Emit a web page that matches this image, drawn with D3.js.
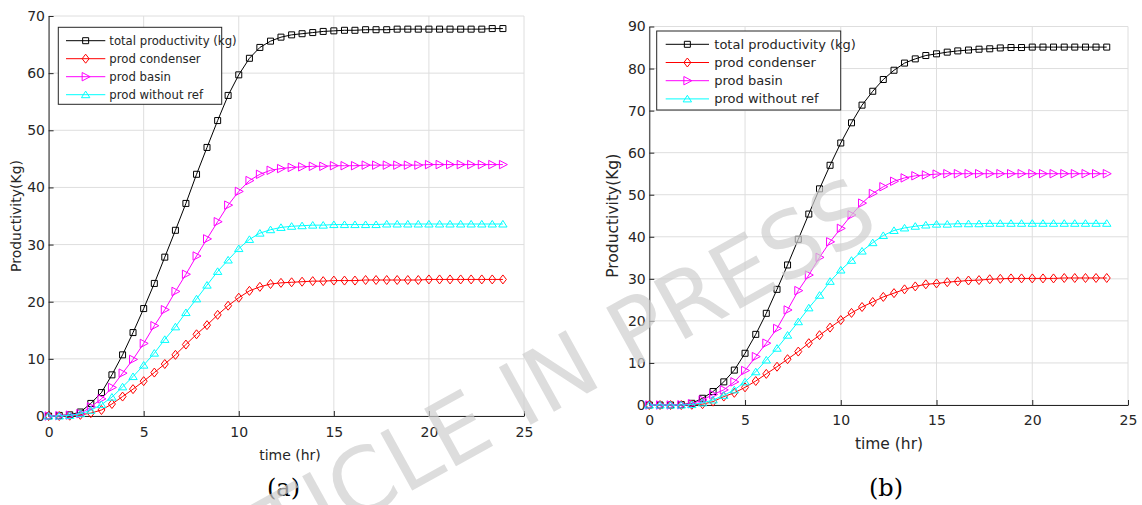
<!DOCTYPE html>
<html>
<head>
<meta charset="utf-8">
<script src="https://cdn.jsdelivr.net/npm/d3@7"></script>
<style>
  body { margin: 0; background: #fff; }
  svg text { font-family: "DejaVu Sans", sans-serif; fill: #262626; }
</style>
</head>
<body>
<svg id="chart" width="1142" height="505"></svg>
<script>
// time samples (hr)
const time = [0, 0.56, 1.11, 1.67, 2.22, 2.78, 3.33, 3.89, 4.44, 5, 5.56, 6.11, 6.67, 7.22, 7.78, 8.33, 8.89, 9.44, 10, 10.56, 11.11, 11.67, 12.22, 12.78, 13.33, 13.89, 14.44, 15, 15.56, 16.11, 16.67, 17.22, 17.78, 18.33, 18.89, 19.44, 20, 20.56, 21.11, 21.67, 22.22, 22.78, 23.33, 23.89];

// panel (a)
const totalA = [0, 0.1, 0.2, 0.7, 2.2, 4.1, 7.2, 10.7, 14.6, 18.8, 23.2, 27.8, 32.5, 37.2, 42.3, 47.0, 51.7, 56.1, 59.7, 62.6, 64.5, 65.6, 66.3, 66.7, 66.9, 67.1, 67.3, 67.4, 67.5, 67.5, 67.6, 67.6, 67.6, 67.7, 67.7, 67.7, 67.7, 67.7, 67.7, 67.7, 67.7, 67.7, 67.8, 67.8];
const condA = [0, 0, 0.05, 0.2, 0.5, 1.05, 2.1, 3.4, 4.7, 6.1, 7.6, 9.1, 10.7, 12.5, 14.3, 15.9, 17.7, 19.3, 20.7, 21.9, 22.6, 23.1, 23.3, 23.4, 23.5, 23.6, 23.6, 23.7, 23.7, 23.7, 23.8, 23.8, 23.8, 23.8, 23.8, 23.8, 23.9, 23.9, 23.9, 23.9, 23.9, 23.9, 23.9, 23.9];
const basinA = [0, 0.05, 0.15, 0.4, 1.6, 3.0, 5.0, 7.5, 9.9, 12.7, 15.8, 18.6, 21.8, 24.8, 28.0, 31.0, 34.0, 36.9, 39.3, 41.2, 42.3, 43.0, 43.3, 43.5, 43.6, 43.7, 43.7, 43.8, 43.8, 43.8, 43.9, 43.9, 43.9, 43.9, 43.9, 43.9, 44.0, 44.0, 44.0, 44.0, 44.0, 44.0, 44.0, 44.0];
const noRefA = [0, 0, 0.1, 0.4, 1.0, 2.0, 3.3, 5.1, 6.9, 8.9, 11.0, 13.4, 15.6, 18.1, 20.5, 22.9, 25.3, 27.3, 29.3, 30.9, 32.0, 32.6, 33.0, 33.2, 33.3, 33.4, 33.4, 33.5, 33.5, 33.5, 33.5, 33.5, 33.6, 33.6, 33.6, 33.6, 33.6, 33.6, 33.6, 33.6, 33.6, 33.6, 33.6, 33.6];

// panel (b)
const totalB = [0, 0, 0, 0.1, 0.4, 1.6, 3.2, 5.5, 8.3, 12.3, 16.8, 21.8, 27.5, 33.3, 39.4, 45.4, 51.4, 57.0, 62.3, 67.1, 71.3, 74.6, 77.4, 79.6, 81.3, 82.3, 83.1, 83.5, 83.9, 84.2, 84.4, 84.6, 84.7, 84.9, 85.0, 85.0, 85.1, 85.1, 85.1, 85.1, 85.1, 85.1, 85.1, 85.1];
const condB = [0, 0, 0, 0, 0.05, 0.2, 0.8, 2.0, 2.9, 4.2, 5.7, 7.4, 9.1, 10.9, 12.7, 14.7, 16.6, 18.4, 20.2, 21.9, 23.3, 24.5, 25.7, 26.6, 27.5, 28.2, 28.7, 28.9, 29.2, 29.4, 29.6, 29.7, 29.9, 30.0, 30.1, 30.1, 30.1, 30.1, 30.1, 30.2, 30.2, 30.2, 30.2, 30.2];
const basinB = [0, 0, 0, 0.05, 0.3, 1.2, 2.5, 3.6, 5.5, 8.2, 11.5, 14.7, 18.2, 22.6, 27.2, 30.9, 35.1, 38.8, 42.0, 45.2, 48.0, 50.3, 51.9, 53.2, 54.0, 54.5, 54.7, 54.9, 55.0, 55.0, 55.0, 55.0, 55.0, 55.0, 55.0, 55.0, 55.0, 55.0, 55.0, 55.0, 55.0, 55.0, 55.0, 55.0];
const noRefB = [0, 0, 0, 0, 0.1, 0.5, 1.2, 2.3, 3.6, 5.5, 7.9, 10.7, 13.5, 16.6, 19.8, 23.1, 26.1, 29.4, 32.1, 34.4, 36.6, 38.6, 40.3, 41.5, 42.1, 42.5, 42.8, 43.0, 43.0, 43.1, 43.1, 43.1, 43.2, 43.2, 43.2, 43.2, 43.2, 43.2, 43.2, 43.2, 43.2, 43.2, 43.2, 43.2];

const seriesNames = ["total productivity (kg)", "prod condenser", "prod basin", "prod without ref"];
const seriesColors = ["#000000", "#ff0000", "#ff00ff", "#00ffff"];
const seriesMarkers = ["square", "diamond", "triRight", "triUp"];

const xTicks = [0, 5, 10, 15, 20, 25];
const yTicksA = [0, 10, 20, 30, 40, 50, 60, 70];
const yTicksB = [0, 10, 20, 30, 40, 50, 60, 70, 80, 90];

const xLabel = "time (hr)";
const yLabel = "Productivity(Kg)";
const panelLabels = ["(a)", "(b)"];

// marker shapes, centred on 0,0
const markerPaths = {
  square: "M-3,-3h6v6h-6Z",
  diamond: "M0,-4.5L3.5,0L0,4.5L-3.5,0Z",
  triRight: "M-3.5,-4.2L4.5,0L-3.5,4.2Z",
  triUp: "M0,-3.6L4.2,3L-4.2,3Z"
};

const svg = d3.select("#chart");
const gridColor = "#dedede";
const axisColor = "#262626";

const panels = [
  {
    series: [totalA, condA, basinA, noRefA], yTicks: yTicksA, yMax: 70,
    left: 48.6, right: 524, top: 16, bottom: 416,
    xPad: 11, xLabelY: 460, xLabelX: 290, xLabelSize: 14, yLabelX: 16,
    legend: { x: 58.3, y: 27.3, w: 163.4, h: 77, row0: 13.4, step: 18, l0: 66, l1: 105.3, tx: 109.3, size: 11.7 },
    label: panelLabels[0], labelX: 283.5
  },
  {
    series: [totalB, condB, basinB, noRefB], yTicks: yTicksB, yMax: 90,
    left: 649.3, right: 1128, top: 26.5, bottom: 405,
    xPad: 10, xLabelY: 449, xLabelX: 889, xLabelSize: 15.5, yLabelX: 613,
    legend: { x: 656.7, y: 31, w: 184, h: 79, row0: 13.3, step: 18.2, l0: 665.7, l1: 709, tx: 714.3, size: 13 },
    label: panelLabels[1], labelX: 886
  }
];

panels.forEach(drawPanel);

function drawPanel(p) {
  const x = d3.scaleLinear().domain([0, 25]).range([p.left, p.right]);
  const y = d3.scaleLinear().domain([0, p.yMax]).range([p.bottom, p.top]);
  const g = svg.append("g");

  // grid
  g.append("g").selectAll("line").data(xTicks).join("line")
    .attr("x1", d => x(d)).attr("x2", d => x(d))
    .attr("y1", p.top).attr("y2", p.bottom)
    .attr("stroke", gridColor).attr("stroke-width", 1);
  g.append("g").selectAll("line").data(p.yTicks).join("line")
    .attr("x1", p.left).attr("x2", p.right)
    .attr("y1", d => y(d)).attr("y2", d => y(d))
    .attr("stroke", gridColor).attr("stroke-width", 1);

  // axes
  const xAxis = d3.axisBottom(x).tickValues(xTicks).tickSizeInner(-5).tickSizeOuter(0).tickPadding(p.xPad);
  const yAxis = d3.axisLeft(y).tickValues(p.yTicks).tickSizeInner(-5).tickSizeOuter(0).tickPadding(3.6);
  [g.append("g").attr("transform", `translate(0,${p.bottom})`).call(xAxis),
   g.append("g").attr("transform", `translate(${p.left},0)`).call(yAxis)].forEach(a => {
    a.attr("font-family", null).attr("font-size", 14);
    a.select(".domain").attr("stroke", axisColor);
    a.selectAll(".tick line").attr("stroke", axisColor);
    a.selectAll(".tick text").attr("fill", axisColor);
  });

  // series lines and markers
  const lineGen = d3.line().x((d, i) => x(time[i])).y(d => y(d));
  p.series.forEach((vals, k) => {
    g.append("path").datum(vals)
      .attr("fill", "none").attr("stroke", seriesColors[k]).attr("stroke-width", 1)
      .attr("d", lineGen);
    g.append("g").selectAll("path").data(vals).join("path")
      .attr("d", markerPaths[seriesMarkers[k]])
      .attr("transform", (d, i) => `translate(${x(time[i])},${y(d)})`)
      .attr("fill", "none").attr("stroke", seriesColors[k]).attr("stroke-width", 1);
  });

  // axis labels
  g.append("text").attr("x", p.xLabelX).attr("y", p.xLabelY)
    .attr("text-anchor", "middle").attr("font-size", p.xLabelSize).text(xLabel);
  g.append("text")
    .attr("transform", `translate(${p.yLabelX},${(p.top + p.bottom) / 2}) rotate(-90)`)
    .attr("text-anchor", "middle").attr("dy", "0.35em").attr("font-size", p.xLabelSize).text(yLabel);

  // legend
  const L = p.legend;
  const lg = g.append("g");
  lg.append("rect").attr("x", L.x).attr("y", L.y).attr("width", L.w).attr("height", L.h)
    .attr("fill", "#fff").attr("stroke", axisColor).attr("stroke-width", 1);
  seriesNames.forEach((name, k) => {
    const ry = L.y + L.row0 + k * L.step;
    lg.append("line").attr("x1", L.l0).attr("x2", L.l1).attr("y1", ry).attr("y2", ry)
      .attr("stroke", seriesColors[k]).attr("stroke-width", 1);
    lg.append("path").attr("d", markerPaths[seriesMarkers[k]])
      .attr("transform", `translate(${(L.l0 + L.l1) / 2},${ry})`)
      .attr("fill", "none").attr("stroke", seriesColors[k]);
    lg.append("text").attr("x", L.tx).attr("y", ry).attr("dy", "0.35em")
      .attr("font-size", L.size).attr("fill", "#000").text(name);
  });

  // sub-figure caption
  svg.append("text").attr("x", p.labelX).attr("y", 496)
    .attr("text-anchor", "middle").attr("font-size", 24)
    .style("font-family", "'DejaVu Serif', serif").style("fill", "#000")
    .text(p.label);
}

// watermark drawn over everything
svg.append("text")
  .attr("transform", "translate(882,230) rotate(-29)")
  .attr("text-anchor", "end")
  .attr("font-size", 90)
  .style("fill", "#cfcfcf").style("opacity", 0.7)
  .text("ARTICLE IN PRESS");
</script>
</body>
</html>
